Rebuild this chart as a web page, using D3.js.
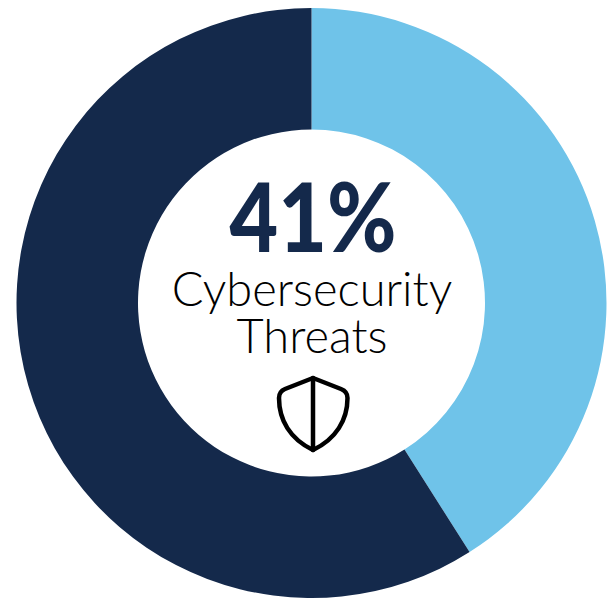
<!DOCTYPE html>
<html><head><meta charset="utf-8">
<script src="https://cdnjs.cloudflare.com/ajax/libs/d3/7.8.5/d3.min.js"></script>
<style>html,body{margin:0;background:#fff}svg{display:block}</style></head>
<body><svg id="c" width="610" height="600"></svg>
<script>
const categories = ["Cybersecurity Threats", "Other"];
const values = [41, 59];
const colors = ["#6fc3e9", "#14294b"];
const titleLines = ["Cybersecurity", "Threats"];

const svg = d3.select("#c");
const cx = 311.5, cy = 303, outer = 295, inner = 173.5;
const pie = d3.pie().sort(null).value(d => d.v);
const arc = d3.arc().innerRadius(inner).outerRadius(outer);
svg.append("g").attr("transform", `translate(${cx},${cy})`)
  .selectAll("path").data(pie(categories.map((c, i) => ({c, v: values[i]}))))
  .join("path").attr("d", arc).attr("fill", (d, i) => colors[i]);

// Headline percentage, narrowed to a geometric proportion
svg.append("text").attr("transform", "translate(313,252) scale(0.875,1)")
  .attr("text-anchor", "middle")
  .attr("font-family", "Lato").attr("font-weight", 900).attr("font-size", 96)
  .attr("fill", colors[1]).text(values[0] + "%");

// Two-line caption under the percentage
const caption = svg.append("text").attr("text-anchor", "middle")
  .attr("font-family", "Lato").attr("font-weight", 300).attr("font-size", 47)
  .attr("fill", "#000");
caption.selectAll("tspan").data(titleLines).join("tspan")
  .attr("x", 312).attr("y", (d, i) => 306 + i * 46.500).text(d => d);

// Shield icon
const icon = svg.append("g").attr("fill", "none").attr("stroke", "#000")
  .attr("stroke-width", 4.5).attr("stroke-linejoin", "round").attr("stroke-linecap", "round");
icon.append("path").attr("d", "M313 378 L285 389 Q279 391.500 279 398 C279 420 290 439 313 450 C336 439 347.500 420 347.500 398 Q347.500 391.500 341 389 Z");
icon.append("path").attr("d", "M313 378 V450");
</script></body></html>
